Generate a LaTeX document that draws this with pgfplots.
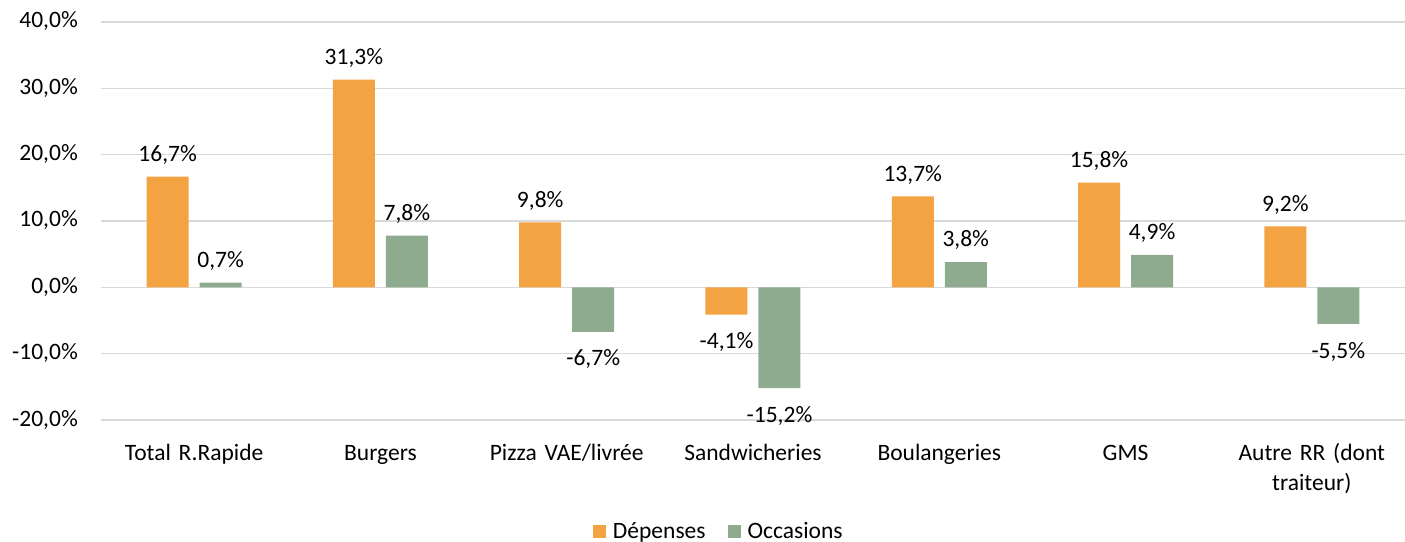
\documentclass[border=0pt]{standalone}
\usepackage{fontspec}
\setmainfont{Carlito}
\usepackage{pgfplots}
\pgfplotsset{compat=1.18}
\definecolor{depc}{HTML}{F4A343}
\definecolor{occc}{HTML}{8FAB8F}
\definecolor{gridc}{HTML}{D9D9D9}
\begin{document}
\fontsize{23.5bp}{30bp}\selectfont
\begin{tikzpicture}
\begin{axis}[
  at={(101bp,122bp)}, anchor=south west,
  scale only axis, width=1304bp, height=398bp,
  xmin=-0.5, xmax=6.5, ymin=-20, ymax=40,
  ybar=11bp, bar width=42bp,
  axis line style={draw=none},
  major tick length=0pt,
  ytick={-20,-10,0,10,20,30,40},
  yticklabels={-20{,}0\%,-10{,}0\%,0{,}0\%,10{,}0\%,20{,}0\%,30{,}0\%,40{,}0\%},
  yticklabel style={anchor=east, inner sep=0pt, xshift=-23bp},
  xtick={0,...,6},
  xticklabels={Total R.Rapide,Burgers,Pizza VAE/livrée,Sandwicheries,Boulangeries,GMS,{Autre RR (dont\\traiteur)}},
  xticklabel style={anchor=north, inner sep=0pt, yshift=-19bp, align=center, text width=170bp},
  typeset ticklabels with strut,
  ymajorgrids, grid style={gridc, line width=1.5bp},
  nodes near coords={\pgfmathprintnumber[fixed, fixed zerofill, precision=1, use comma, assume math mode=true]{\pgfplotspointmeta}\%},
  nodes near coords align={vertical},
  visualization depends on={y \as \rawy},
  every node near coord/.append style={font=\fontsize{23.5bp}{30bp}\selectfont, inner sep=12bp, black,
     yshift={ifthenelse(\rawy<0,-6,0)}},
  legend style={at={(0.473,-0.281)}, anchor=center, draw=none, fill=none, legend columns=2,
    /tikz/every even column/.append style={column sep=22bp},
    /tikz/every odd column/.append style={column sep=7bp},
    nodes={inner sep=0pt, anchor=west}},
  legend image code/.code={\path[#1, draw=none] (0bp,-6.5bp) rectangle (13bp,6.5bp);},
]
\addplot[fill=depc, draw=none] coordinates {
 (0,16.7) (1,31.3) (2,9.8) (3,-4.1) (4,13.7) (5,15.8) (6,9.2)
};
\addplot[fill=occc, draw=none] coordinates {
 (0,0.7) (1,7.8) (2,-6.7) (3,-15.2) (4,3.8) (5,4.9) (6,-5.5)
};
\legend{Dépenses,Occasions}
\end{axis}
\pgfresetboundingbox
\path[use as bounding box] (0,0) rectangle (1405bp,542bp);
\end{tikzpicture}
\end{document}
